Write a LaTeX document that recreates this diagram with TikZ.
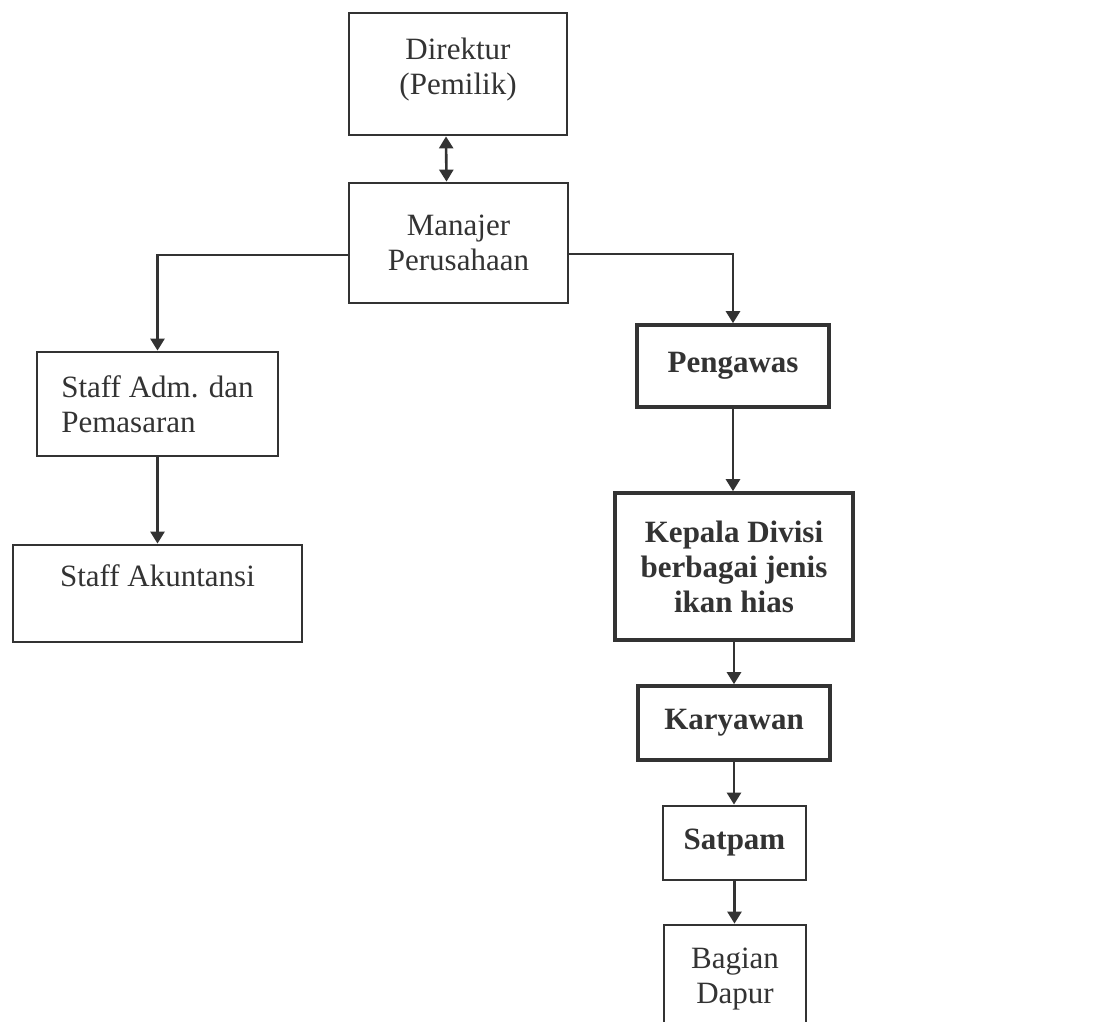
\documentclass[tikz,border=0pt]{standalone}
\usepackage{fontspec}
\setmainfont{Liberation Serif}
\usetikzlibrary{arrows.meta}
\definecolor{ink}{HTML}{333333}
\begin{document}
\begin{tikzpicture}[x=1pt,y=-1pt,
  box/.style={draw=ink,line width=2.8pt,text=ink,align=center,inner sep=0pt,
    font=\fontsize{31}{35}\selectfont},
  boldbox/.style={box,line width=3.6pt,font=\fontsize{31}{35}\selectfont\bfseries},
  conn/.style={draw=ink,line width=2.6pt},
  arr/.style={conn,-{Triangle[length=12pt,width=14pt]}}]
\useasboundingbox (0,0) rectangle (1114,1021);
\clip (0,0) rectangle (1114,1021);
\fill[white] (0,0) rectangle (1114,1021);
\node[box,minimum width=218,minimum height=122] (dir) at (458,74) {Direktur\\(Pemilik)\\[-20pt]\mbox{}};
\node[box,minimum width=219,minimum height=120] (man) at (458.5,243) {Manajer\\Perusahaan};
\node[box,minimum width=241,minimum height=104,align=left] (adm) at (157.5,404) {Staff Adm. dan\\Pemasaran};
\node[box,minimum width=289,minimum height=97] (akun) at (157.5,593.5) {Staff Akuntansi\\\mbox{}};
\node[boldbox,minimum width=192,minimum height=82] (peng) at (733,366) {Pengawas};
\node[boldbox,minimum width=238,minimum height=147] (kep) at (734,566.5) {Kepala Divisi\\berbagai jenis\\ikan hias};
\node[boldbox,minimum width=192,minimum height=74] (kar) at (734,723) {Karyawan};
\node[box,minimum width=143,minimum height=74,font=\fontsize{31}{35}\selectfont\bfseries] (sat) at (734.5,843) {Satpam};
\node[box,minimum width=142,minimum height=136] (bag) at (735,993) {Bagian\\Dapur\\\mbox{}};
% connectors
\draw[conn,{Triangle[length=12pt,width=14pt]}-{Triangle[length=12pt,width=14pt]}]
  ([xshift=-12pt]dir.south) -- ([xshift=-12pt]man.north);
\draw[arr] ([yshift=-12pt]man.west) -| (adm.north);
\draw[arr] ([yshift=-11pt]man.east) -| (peng.north);
\draw[arr] (adm.south) -- (akun.north -| adm.south);
\draw[arr] (peng.south) -- (kep.north -| peng.south);
\draw[arr] (kep.south) -- (kar.north -| kep.south);
\draw[arr] (kar.south) -- (sat.north -| kar.south);
\draw[arr] (sat.south) -- (bag.north -| sat.south);
\end{tikzpicture}
\end{document}
